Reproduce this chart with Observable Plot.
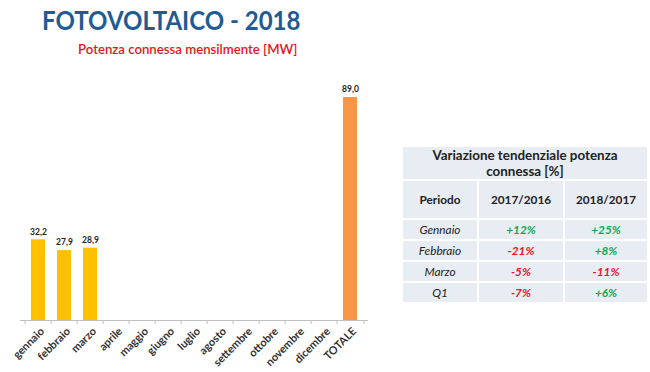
<!DOCTYPE html>
<html><head><meta charset="utf-8">
<script src="https://cdn.jsdelivr.net/npm/d3@7"></script>
<script src="https://cdn.jsdelivr.net/npm/@observablehq/plot@0.6"></script>
<style>
body{margin:0;background:#fff;font-family:Lato,"Open Sans",sans-serif;}
#wrap{position:relative;width:650px;height:372px;overflow:hidden;background:#fff;}
#title{position:absolute;left:42px;top:4px;font-size:24px;font-weight:700;color:#1F5B94;white-space:nowrap;transform:scaleY(1.1);transform-origin:left top;}
#subtitle{position:absolute;left:78px;top:41px;font-size:13.2px;font-weight:600;color:#E3161B;white-space:nowrap;}
#chart{position:absolute;left:0;top:62px;}
#tbl{position:absolute;left:401px;top:145px;border-collapse:collapse;background:#E8ECF3;font-family:Lato,"Open Sans",sans-serif;color:#222;}
#tbl td,#tbl th{border:2px solid #fff;text-align:center;padding:0;}
#tbl .tt{height:32px;font-size:13.4px;font-weight:700;line-height:16px;}
#tbl .hd th{height:37px;font-size:11.8px;font-weight:700;}
#tbl .row td{height:19px;font-size:11.8px;font-style:italic;}
#tbl .pos{color:#12A84A;font-weight:700;}
#tbl .neg{color:#E8162A;font-weight:700;}
</style></head>
<body><div id="wrap">
<div id="title"></div>
<div id="subtitle"></div>
<div id="chart"></div>
<table id="tbl"></table>
</div>
<script>
const chartTitle = "FOTOVOLTAICO - 2018";
const chartSubtitle = "Potenza connessa mensilmente [MW]";
const months = ["gennaio","febbraio","marzo","aprile","maggio","giugno","luglio","agosto","settembre","ottobre","novembre","dicembre","TOTALE"];
const values = [32.2, 27.9, 28.9, null, null, null, null, null, null, null, null, null, 89.0];

const tableTitle = "Variazione tendenziale potenza connessa [%]";
const colHeaders = ["Periodo","2017/2016","2018/2017"];
const periodi = ["Gennaio","Febbraio","Marzo","Q1"];
const var1716 = [12, -21, -5, -7];
const var1817 = [25, 8, -11, 6];

document.getElementById("title").textContent = chartTitle;
document.getElementById("subtitle").textContent = chartSubtitle;

const data = months.map((m,i)=>({m, v: values[i]})).filter(d=>d.v!=null);
const monthly = data.filter(d=>d.m!=="TOTALE");
const total = data.filter(d=>d.m==="TOTALE");
const fmt = d => d.v.toFixed(1).replace(".", ",");

const W = 380, ML = 20, MR = 12;
const step = (W - ML - MR) / months.length;

const plot = Plot.plot({
  width: W, height: 310,
  marginLeft: ML, marginRight: MR, marginTop: 35, marginBottom: 52,
  style: {fontFamily: "Lato, 'Open Sans', sans-serif", background: "transparent"},
  x: {domain: months, padding: 0, label: null},
  y: {domain: [0, 89], axis: null},
  marks: [
    Plot.barY(monthly, {x: "m", y: "v", fill: "#FFC000", insetLeft: 6, insetRight: 6}),
    Plot.barY(total, {x: "m", y: "v", fill: "#F79646", insetLeft: 6, insetRight: 6}),
    Plot.text(data, {x: "m", y: "v", text: fmt, dy: -8, fontSize: 8.5, fontWeight: 700, fill: "#222"}),
    Plot.ruleY([0], {stroke: "#BFBFBF", strokeWidth: 1}),
    Plot.ruleX(months, {x: d => d, dx: -step/2, y1: 0, y2: -1.6, stroke: "#BFBFBF"}),
    Plot.ruleX(months.slice(-1), {x: d => d, dx: step/2, y1: 0, y2: -1.6, stroke: "#BFBFBF"}),
    Plot.axisX({tickSize: 0, tickPadding: 9, dx: 4, tickRotate: -45, fontSize: 11, fontWeight: "bold", fill: "#333", label: null})
  ]
});
document.getElementById("chart").appendChild(plot);

// table
const tbl = document.getElementById("tbl");
const colW = [76, 86, 84];
let html = `<tr><td class="tt" colspan="3">${tableTitle.replace("potenza ", "potenza<br>")}</td></tr>`;
html += `<tr class="hd">${colHeaders.map((h,i)=>`<th style="width:${colW[i]-2}px">${h}</th>`).join("")}</tr>`;
const pct = v => (v > 0 ? "+" : "") + v + "%";
periodi.forEach((p,i)=>{
  html += `<tr class="row"><td>${p}</td><td class="${var1716[i]>0?'pos':'neg'}">${pct(var1716[i])}</td><td class="${var1817[i]>0?'pos':'neg'}">${pct(var1817[i])}</td></tr>`;
});
tbl.innerHTML = html;
</script>
</body></html>
